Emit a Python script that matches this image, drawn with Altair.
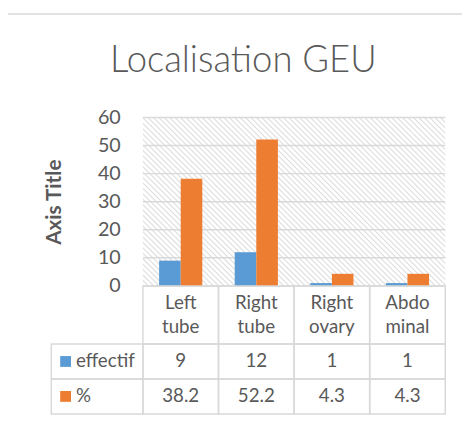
import altair as alt
import pandas as pd

# ---- data ----
chart_title = "Localisation GEU"
axis_title = "Axis Title"
categories = ["Left tube", "Right tube", "Right ovary", "Abdominal"]
header_labels = ["Left\ntube", "Right\ntube", "Right\novary", "Abdo\nminal"]
series_names = ["effectif", "%"]
effectif = [9, 12, 1, 1]
percent = [38.2, 52.2, 4.3, 4.3]
y_ticks = [0, 10, 20, 30, 40, 50, 60]
series_colors = ["#5b9bd5", "#ed7d31"]

rows = []
for s, vals in zip(series_names, [effectif, percent]):
    for c, v in zip(categories, vals):
        rows.append({"category": c, "series": s, "value": v, "label": str(v)})
df = pd.DataFrame(rows)
header_df = pd.DataFrame({"category": categories, "header": header_labels})

# ---- layout / style ----
W, H = 307, 171
HEADER_H = 59
ROW_H = 35.5
TXT = "#595959"
LINE = "#d9d9d9"
FONT = "Lato"

xcat = alt.X("category:N", sort=categories,
             scale=alt.Scale(domain=categories, paddingInner=0, paddingOuter=0),
             axis=None)
yscale = alt.Scale(domain=[0, 60], nice=False, zero=True)
yaxis = alt.Axis(values=y_ticks, grid=False, domain=False, ticks=False,
                 labelFont=FONT, labelFontSize=20, labelColor=TXT, labelPadding=23,
                 title=axis_title, titleFont=FONT, titleFontSize=21,
                 titleFontWeight="bold", titleColor=TXT, titleAngle=270,
                 titleX=-90, titleY=H / 2, titleAlign="center", titleBaseline="middle")
color = alt.Color("series:N", scale=alt.Scale(domain=series_names, range=series_colors),
                  legend=None)

one = pd.DataFrame({"k": [0]})

border_left = alt.Chart(one).mark_rule(color=LINE, strokeWidth=1.5).encode(
    x=alt.value(-138), y=alt.value(-105), y2=alt.value(304))
border_top = alt.Chart(one).mark_rule(color=LINE, strokeWidth=1.5).encode(
    x=alt.value(-138), x2=alt.value(324), y=alt.value(-105))

hatch = alt.Chart(alt.sequence(-H, W + 6, 5.5, as_="h")).transform_calculate(
    h2=f"datum.h + {H}", top="60", bot="0"
).mark_rule(clip=True, color="#dddddd", strokeWidth=1.1).encode(
    x=alt.X("h:Q", scale=alt.Scale(domain=[0, W], nice=False, zero=False), axis=None),
    x2="h2:Q",
    y=alt.Y("top:Q", scale=yscale, axis=yaxis),
    y2="bot:Q",
)

grid = alt.Chart(pd.DataFrame({"tick": y_ticks})).mark_rule(
    color=LINE, strokeWidth=1.5).encode(y=alt.Y("tick:Q", scale=yscale, axis=yaxis))

bars = alt.Chart(df).mark_bar().encode(
    x=xcat,
    xOffset=alt.XOffset("series:N", sort=series_names,
                        scale=alt.Scale(domain=series_names, paddingInner=0, paddingOuter=0.75)),
    y=alt.Y("value:Q", scale=yscale, axis=yaxis),
    color=color,
)

title_txt = alt.Chart(pd.DataFrame({"t": [chart_title]})).mark_text(
    font=FONT, fontSize=37, fontWeight=300, color=TXT, baseline="alphabetic", align="center"
).encode(x=alt.value(102), y=alt.value(-46.5), text="t:N")

header_cells = alt.Chart(header_df).mark_rect(
    fillOpacity=0, stroke=LINE, strokeWidth=1.5).encode(
    x=xcat, y=alt.value(H), y2=alt.value(H + HEADER_H))
header_text = alt.Chart(header_df).mark_text(
    lineBreak="\n", lineHeight=25, font=FONT, fontSize=19, color=TXT, baseline="alphabetic"
).encode(x=xcat, y=alt.value(H + 23), text="header:N")

layers = [border_left, border_top, hatch, grid, bars, title_txt, header_cells]

for i, s in enumerate(series_names):
    top = H + HEADER_H + ROW_H * i
    bot = top + ROW_H
    mid = (top + bot) / 2
    sub = df[df["series"] == s]
    lab = pd.DataFrame({"series": [s]})
    layers.append(alt.Chart(sub).mark_rect(fillOpacity=0, stroke=LINE, strokeWidth=1.5).encode(
        x=xcat, y=alt.value(top), y2=alt.value(bot)))
    layers.append(alt.Chart(sub).mark_text(font=FONT, fontSize=19, color=TXT, baseline="middle").encode(
        x=xcat, y=alt.value(mid), text="label:N"))
    layers.append(alt.Chart(lab).mark_rect(fillOpacity=0, stroke=LINE, strokeWidth=1.5).encode(
        x=alt.value(-93), x2=alt.value(0), y=alt.value(top), y2=alt.value(bot)))
    layers.append(alt.Chart(lab).mark_square(size=121, opacity=1).encode(
        x=alt.value(-78.5), y=alt.value(mid), color=color))
    layers.append(alt.Chart(lab).mark_text(font=FONT, fontSize=19, color=TXT, baseline="middle",
                                           align="left").encode(
        x=alt.value(-68), y=alt.value(mid), text="series:N"))

layers.append(header_text)

chart = alt.layer(*layers).resolve_scale(x="independent").properties(
    width=W, height=H,
    autosize=alt.AutoSizeParams(type="none"),
    padding={"left": 137, "top": 108, "right": 17, "bottom": 133},
).configure_view(stroke=None)

chart.save("out.html", embed_options={"renderer": "svg", "actions": False})
